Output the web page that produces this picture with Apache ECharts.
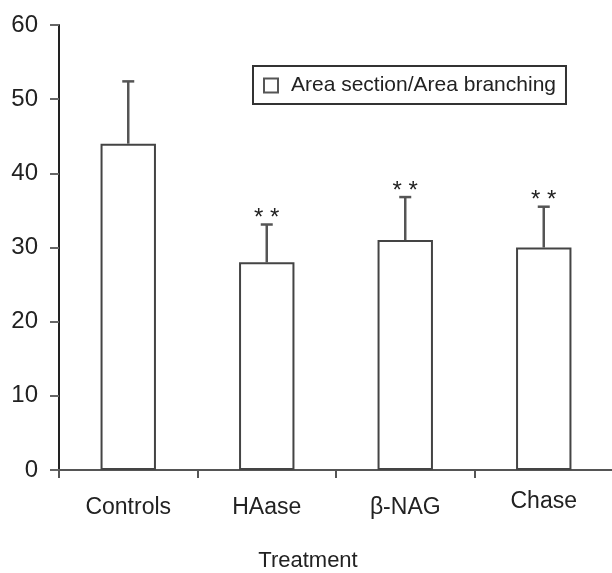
<!DOCTYPE html>
<html>
<head>
<meta charset="utf-8">
<script src="https://cdn.jsdelivr.net/npm/echarts@6/dist/echarts.min.js"></script>
<style>html,body{margin:0;padding:0;background:#fff}#c{width:612px;height:573px}</style>
</head>
<body>
<div id="c"></div>
<script>
var categories = ['Controls', 'HAase', 'β-NAG', 'Chase'];
var means = [44, 28, 31, 30];
var errorTops = [52.4, 33.1, 36.8, 35.5];
var marks = ['', '* *', '* *', '* *'];
var yTicks = [0, 10, 20, 30, 40, 50, 60];
var seriesName = 'Area section/Area branching';

var FONT = '"Liberation Sans Narrow", "Arial Narrow", "Liberation Sans", Arial, sans-serif';
var chart = echarts.init(document.getElementById('c'), null, {renderer: 'canvas'});

var catData = categories.map(function (c) {
  if (c === 'Chase') return {value: c, textStyle: {lineHeight: 12}};
  return c;
});

chart.setOption({
  animation: false,
  backgroundColor: '#fff',
  grid: {left: 59, top: 25, bottom: 103, width: 554, containLabel: false, outerBoundsMode: 'none'},
  legend: {
    data: [{name: seriesName, icon: 'rect', itemStyle: {color: '#fff', borderColor: '#555', borderWidth: 2}}],
    left: 253, top: 66,
    itemWidth: 14, itemHeight: 14,
    borderColor: '#333', borderWidth: 2,
    padding: [8, 10, 7, 10],
    textStyle: {fontFamily: FONT, fontSize: 21, color: '#222', lineHeight: 23, padding: [0, 0, 0, 8]}
  },
  xAxis: {
    type: 'category',
    data: catData,
    name: 'Treatment',
    nameLocation: 'middle',
    nameGap: 80,
    nameTextStyle: {fontFamily: FONT, fontSize: 22, color: '#222', padding: [0, 56, 0, 0]},
    axisLine: {lineStyle: {color: '#555', width: 2}},
    axisTick: {show: true, alignWithLabel: false, length: 8, lineStyle: {color: '#555', width: 2}},
    axisLabel: {fontFamily: FONT, fontSize: 23, color: '#222', margin: 26, lineHeight: 24, interval: 0}
  },
  yAxis: {
    type: 'value',
    min: yTicks[0], max: yTicks[yTicks.length - 1], interval: 10,
    splitLine: {show: false},
    axisLine: {show: true, lineStyle: {color: '#222', width: 2}},
    axisTick: {show: true, length: 9, lineStyle: {color: '#666', width: 2}},
    axisLabel: {fontFamily: FONT, fontSize: 24, color: '#222', margin: 21}
  },
  series: [
    {
      name: seriesName,
      type: 'bar',
      data: means,
      barWidth: '40%',
      itemStyle: {color: '#fff', borderColor: '#444', borderWidth: 2}
    },
    {
      type: 'custom',
      name: 'err',
      data: categories.map(function (c, i) { return [i, means[i], errorTops[i]]; }),
      z: 1,
      renderItem: function (params, api) {
        var i = api.value(0);
        var lo = api.coord([i, api.value(1)]);
        var hi = api.coord([i, api.value(2)]);
        var hw = 6;
        var children = [
          {type: 'line', shape: {x1: lo[0], y1: lo[1], x2: hi[0], y2: hi[1]}, style: {stroke: '#555', lineWidth: 2.5}},
          {type: 'line', shape: {x1: hi[0] - hw, y1: hi[1], x2: hi[0] + hw, y2: hi[1]}, style: {stroke: '#555', lineWidth: 2.5}}
        ];
        if (marks[params.dataIndex]) {
          children.push({type: 'text', style: {text: marks[params.dataIndex], x: hi[0], y: hi[1] + 6, align: 'center', verticalAlign: 'bottom', fontFamily: FONT, fontSize: 24, fill: '#222'}});
        }
        return {type: 'group', children: children};
      }
    }
  ]
});
</script>
</body>
</html>
